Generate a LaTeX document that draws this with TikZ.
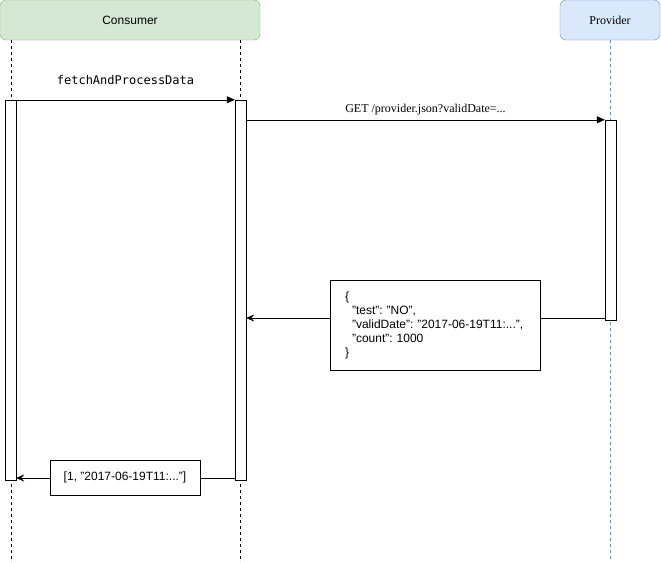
\documentclass[tikz,border=0pt]{standalone}
\usepackage{fontspec}
\setmainfont{Liberation Sans}
\newfontfamily\serfont{Liberation Serif}
\newfontfamily\codefont{DejaVu Sans Mono}
\usetikzlibrary{arrows.meta}
\definecolor{consfill}{HTML}{D5E8D4}
\definecolor{consline}{HTML}{82B366}
\definecolor{provfill}{HTML}{DAE8FC}
\definecolor{provline}{HTML}{6C8EBF}
\frenchspacing
\begin{document}
\begin{tikzpicture}[x=1pt,y=-1pt,
    font=\fontsize{12}{14}\selectfont,
    actor/.style={draw,rounded corners=6pt,minimum height=40pt,inner sep=0pt},
    actbar/.style={draw,fill=white,minimum width=11pt,inner sep=0pt},
    life/.style={dashed,dash pattern=on 3pt off 3pt},
    msg/.style={-{Triangle[length=8pt,width=7pt]}},
    reply/.style={-{Stealth[length=8pt,width=7pt,inset=3pt]}},
    retbox/.style={draw,fill=white,inner sep=0pt}]
        \useasboundingbox (0,0) rectangle (661,562);
        \node [actor,fill=consfill,draw=consline,minimum width=260pt] (cons) at (130,20) {Consumer};
        \node [actor,fill=provfill,draw=provline,minimum width=100pt,font=\serfont\fontsize{12}{14}\selectfont] (prov) at (610,20) {Provider};
        \coordinate (endA) at (11,562);
        \coordinate (endB) at (240,562);
        \coordinate (endP) at (610,562);
        \draw [life] (11,40) -- (endA);
        \draw [life] (240,40) -- (endB);
        \draw [life,provline] (prov.south) -- (endP);

        \node [actbar,minimum height=380pt] (actA) at (10.5,290) {};
        \node [actbar,minimum height=380pt] (actB) at (240.5,290) {};
        \node [actbar,minimum height=200pt] (actP) at (610.5,220) {};

        \draw [msg] (actA.north east) -- (actB.north west)
            node [midway,above=12pt,font=\codefont\fontsize{12}{14}\selectfont] {fetchAndProcessData};
        \draw [msg] (actB.east |- actP.north) -- (actP.north west)
            node [midway,above=1pt,font=\serfont\fontsize{12}{14}\selectfont] {GET /provider.json?validDate=...};

        \node [retbox,minimum width=210pt,minimum height=90pt,text width=180pt,align=left] (json) at (435,325)
            {\{\\
             \hspace*{7pt}"test": "NO",\\
             \hspace*{7pt}"validDate": "2017-06-19T11:...",\\
             \hspace*{7pt}"count": 1000\\
             \}};
        \coordinate (retP) at (605,318);
        \draw (retP) -- (json.east |- retP);
        \draw [reply] (json.west |- retP) -- (actB.east |- retP);
        \node [retbox,minimum width=150pt,minimum height=35pt] (list) at (125,477.5) {[1, "2017-06-19T11:..."]};
        \coordinate (retB) at (235,478);
        \draw (retB) -- (list.east |- retB);
        \draw [reply] (list.west |- retB) -- (actA.east |- retB);
    \end{tikzpicture}
\end{document}
